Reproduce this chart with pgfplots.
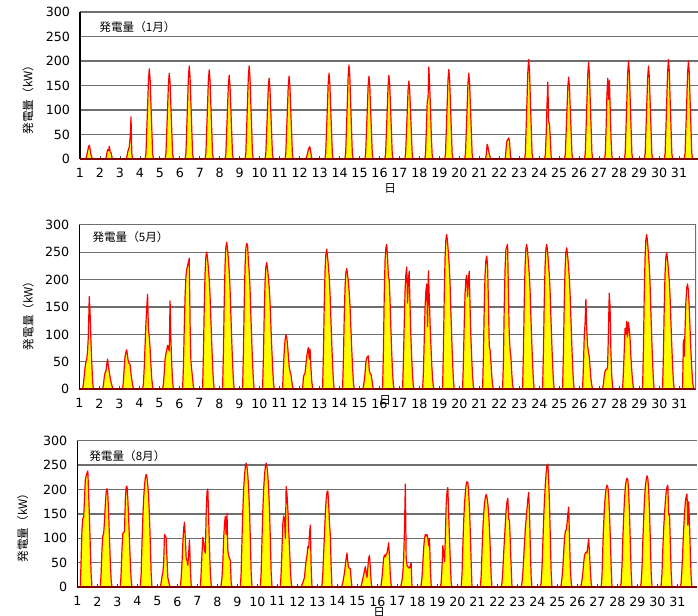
\documentclass[border=0pt]{standalone}
\usepackage{fontspec}
\setmainfont{Noto Sans CJK JP}
\newfontfamily\numfont{DejaVu Sans}
\usepackage{pgfplots}
\usepackage{pgfplotstable}
\pgfplotsset{compat=1.18}
\definecolor{frred}{HTML}{FF0000}
\definecolor{fryel}{HTML}{FFFF00}
\definecolor{zeroline}{HTML}{800000}
\definecolor{gridc}{HTML}{6E6E6E}

% hourly generation (kW), 15 samples per day, one line per day
\pgfplotstableread[row sep=\\, header=false]{
0\\0\\0\\2\\9\\17\\25\\28\\18\\8\\3\\0\\0\\0\\0\\
0\\0\\0\\2\\12\\19\\17\\26\\14\\13\\4\\0\\0\\0\\0\\
0\\0\\0\\0\\4\\14\\20\\25\\45\\86\\10\\0\\0\\0\\0\\
0\\0\\0\\11\\61\\110\\162\\184\\162\\110\\61\\11\\0\\0\\0\\
0\\0\\0\\11\\58\\105\\154\\175\\154\\105\\58\\11\\0\\0\\0\\
0\\0\\0\\11\\63\\114\\167\\190\\167\\114\\63\\11\\0\\0\\0\\
0\\0\\0\\11\\60\\109\\160\\182\\160\\109\\60\\11\\0\\0\\0\\
0\\0\\0\\10\\56\\103\\150\\171\\150\\103\\56\\10\\0\\0\\0\\
0\\0\\0\\11\\63\\114\\167\\190\\167\\114\\63\\11\\0\\0\\0\\
0\\0\\0\\10\\54\\99\\145\\165\\145\\99\\54\\10\\0\\0\\0\\
0\\0\\0\\10\\56\\101\\149\\169\\149\\101\\56\\10\\0\\0\\0\\
0\\0\\0\\0\\4\\10\\18\\23\\25\\15\\3\\0\\0\\0\\0\\
0\\0\\0\\11\\58\\105\\154\\175\\154\\105\\58\\11\\0\\0\\0\\
0\\0\\0\\12\\63\\115\\169\\192\\169\\115\\63\\12\\0\\0\\0\\
0\\0\\0\\10\\56\\101\\149\\169\\149\\101\\56\\10\\0\\0\\0\\
0\\0\\0\\10\\56\\103\\150\\171\\150\\103\\56\\10\\0\\0\\0\\
0\\0\\0\\10\\52\\95\\140\\159\\140\\95\\52\\10\\0\\0\\0\\
0\\0\\0\\10\\60\\115\\125\\188\\150\\100\\45\\8\\0\\0\\0\\
0\\0\\0\\11\\60\\110\\161\\183\\161\\110\\60\\11\\0\\0\\0\\
0\\0\\0\\11\\58\\105\\154\\175\\154\\105\\58\\11\\0\\0\\0\\
0\\0\\0\\0\\8\\30\\25\\15\\8\\2\\0\\0\\0\\0\\0\\
0\\0\\0\\3\\25\\38\\40\\43\\35\\8\\0\\0\\0\\0\\0\\
0\\0\\0\\12\\67\\122\\179\\203\\179\\122\\67\\12\\0\\0\\0\\
0\\0\\0\\9\\50\\110\\157\\75\\72\\40\\5\\0\\0\\0\\0\\
0\\0\\0\\10\\55\\100\\147\\167\\147\\100\\55\\10\\0\\0\\0\\
0\\0\\0\\12\\65\\118\\173\\197\\173\\118\\65\\12\\0\\0\\0\\
0\\0\\0\\10\\60\\130\\165\\122\\161\\100\\40\\6\\0\\0\\0\\
0\\0\\0\\12\\66\\120\\176\\200\\176\\120\\66\\12\\0\\0\\0\\
0\\0\\0\\11\\63\\114\\167\\190\\167\\114\\63\\11\\0\\0\\0\\
0\\0\\0\\12\\67\\122\\179\\203\\179\\122\\67\\12\\0\\0\\0\\
0\\0\\0\\12\\66\\120\\176\\200\\176\\120\\66\\12\\0\\0\\0\\
}\jan

\pgfplotstableread[row sep=\\, header=false]{
0\\10\\25\\40\\50\\55\\70\\100\\169\\140\\90\\50\\15\\0\\0\\
0\\8\\22\\30\\33\\45\\55\\42\\32\\22\\14\\8\\3\\0\\0\\
0\\15\\40\\60\\68\\72\\60\\50\\47\\45\\30\\18\\8\\2\\0\\
0\\10\\40\\80\\120\\150\\173\\110\\96\\75\\45\\20\\5\\0\\0\\
0\\10\\30\\55\\65\\72\\80\\75\\70\\161\\90\\45\\15\\0\\0\\
0\\40\\110\\170\\205\\219\\225\\232\\239\\120\\50\\35\\20\\5\\0\\
0\\63\\150\\213\\243\\250\\238\\220\\200\\170\\125\\83\\45\\15\\0\\
0\\67\\161\\228\\260\\268\\255\\236\\214\\182\\134\\88\\48\\16\\0\\
0\\67\\160\\226\\258\\266\\262\\234\\213\\181\\133\\88\\48\\16\\0\\
0\\58\\139\\196\\224\\231\\219\\203\\185\\157\\116\\76\\42\\14\\0\\
0\\40\\70\\90\\99\\95\\80\\60\\40\\32\\28\\15\\5\\0\\0\\
0\\22\\27\\30\\45\\60\\70\\76\\55\\73\\40\\15\\3\\0\\0\\
0\\64\\153\\217\\247\\255\\242\\224\\204\\173\\128\\84\\46\\15\\0\\
0\\55\\132\\187\\213\\220\\209\\194\\176\\150\\110\\73\\40\\13\\0\\
0\\5\\15\\30\\50\\57\\60\\61\\35\\29\\28\\20\\8\\0\\0\\
0\\70\\170\\235\\258\\264\\240\\205\\199\\160\\110\\65\\30\\8\\0\\
0\\50\\120\\180\\210\\223\\157\\200\\215\\150\\95\\55\\25\\5\\0\\
0\\30\\90\\150\\180\\192\\114\\216\\170\\120\\80\\45\\20\\5\\0\\
0\\71\\169\\240\\274\\282\\268\\248\\226\\192\\141\\93\\51\\17\\0\\
0\\50\\120\\175\\200\\208\\169\\200\\215\\150\\95\\55\\25\\5\\0\\
0\\60\\150\\210\\235\\243\\225\\160\\79\\72\\50\\25\\8\\0\\0\\
0\\50\\150\\220\\255\\260\\264\\180\\100\\72\\60\\30\\8\\0\\0\\
0\\66\\158\\224\\256\\264\\251\\232\\211\\180\\132\\87\\48\\16\\0\\
0\\66\\158\\224\\256\\264\\251\\232\\211\\180\\132\\87\\48\\16\\0\\
0\\65\\155\\219\\250\\258\\245\\227\\206\\175\\129\\85\\46\\15\\0\\
0\\40\\96\\120\\164\\110\\80\\69\\60\\40\\20\\8\\0\\0\\0\\
0\\10\\25\\33\\36\\36\\40\\100\\175\\150\\70\\25\\5\\0\\0\\
0\\30\\70\\111\\100\\124\\95\\122\\110\\93\\60\\35\\15\\3\\0\\
0\\71\\169\\240\\274\\282\\268\\248\\226\\192\\141\\93\\51\\17\\0\\
0\\62\\149\\212\\242\\249\\236\\219\\199\\169\\125\\82\\45\\15\\0\\
0\\90\\60\\110\\160\\185\\192\\180\\150\\110\\70\\40\\15\\3\\0\\
}\may

\pgfplotstableread[row sep=\\, header=false]{
0\\60\\120\\141\\143\\180\\220\\228\\234\\238\\190\\140\\80\\25\\0\\
0\\30\\80\\105\\110\\135\\170\\195\\202\\190\\150\\100\\50\\15\\0\\
0\\30\\80\\110\\112\\114\\180\\205\\207\\180\\140\\95\\50\\15\\0\\
0\\28\\90\\143\\182\\208\\224\\231\\224\\208\\182\\143\\90\\28\\0\\
0\\10\\22\\30\\50\\108\\105\\100\\60\\20\\12\\5\\0\\0\\0\\
0\\20\\50\\90\\120\\133\\100\\60\\55\\45\\70\\97\\40\\5\\0\\
0\\30\\70\\102\\90\\75\\70\\150\\195\\201\\140\\80\\30\\5\\0\\
0\\5\\20\\50\\100\\130\\145\\108\\151\\75\\65\\59\\55\\10\\0\\
0\\30\\99\\157\\201\\229\\246\\254\\246\\229\\201\\157\\99\\30\\0\\
0\\30\\99\\157\\201\\229\\246\\254\\246\\229\\201\\157\\99\\30\\0\\
0\\30\\80\\130\\146\\140\\100\\206\\190\\160\\120\\80\\40\\10\\0\\
0\\0\\5\\10\\15\\20\\40\\55\\65\\83\\80\\110\\127\\40\\0\\
0\\0\\5\\30\\70\\110\\150\\180\\195\\197\\170\\130\\107\\40\\0\\
0\\0\\3\\10\\20\\30\\45\\60\\70\\50\\40\\39\\38\\15\\0\\
0\\3\\10\\18\\25\\35\\42\\30\\20\\40\\60\\65\\40\\10\\0\\
0\\5\\20\\40\\60\\66\\62\\68\\70\\80\\91\\60\\25\\5\\0\\
0\\5\\15\\30\\60\\120\\211\\60\\45\\42\\40\\39\\45\\50\\0\\
0\\5\\20\\50\\80\\100\\108\\105\\108\\100\\85\\100\\40\\5\\0\\
0\\10\\40\\85\\70\\52\\100\\170\\195\\204\\150\\100\\50\\10\\0\\
0\\0\\26\\84\\134\\171\\194\\210\\216\\214\\194\\160\\110\\50\\0\\
0\\23\\74\\118\\150\\171\\184\\190\\184\\171\\150\\118\\74\\23\\0\\
0\\0\\10\\35\\70\\100\\130\\160\\175\\182\\140\\136\\90\\40\\0\\
0\\0\\10\\30\\60\\90\\120\\140\\160\\180\\194\\150\\80\\20\\0\\
0\\10\\40\\90\\140\\180\\210\\235\\250\\252\\220\\170\\100\\30\\0\\
0\\5\\20\\40\\70\\100\\115\\117\\130\\150\\164\\100\\40\\10\\0\\
0\\5\\15\\30\\50\\65\\70\\72\\70\\85\\99\\70\\35\\8\\0\\
0\\0\\25\\82\\130\\165\\188\\203\\209\\205\\188\\150\\100\\40\\0\\
0\\10\\45\\100\\145\\180\\205\\218\\223\\220\\195\\150\\90\\30\\0\\
0\\10\\40\\95\\140\\180\\205\\220\\228\\222\\200\\155\\95\\30\\0\\
0\\5\\30\\80\\120\\150\\175\\195\\205\\209\\148\\150\\90\\30\\0\\
0\\10\\40\\80\\120\\150\\175\\185\\191\\127\\175\\130\\70\\20\\0\\
}\aug

\pgfplotsset{
  table/dayx/.style={x expr={1+floor((\coordindex+0.5)/15)+(#1+\coordindex-15*floor((\coordindex+0.5)/15))/24}, y index=0},
  panel/.style={
    anchor=south west, scale only axis,
    ymin=0, ymax=300, ytick={0,50,...,300},
    xtick={1,...,31},
    axis x line*=bottom, axis y line*=left,
    x axis line style={zeroline, line width=1.2pt},
    y axis line style={black, line width=0.8pt},
    ymajorgrids, major grid style={gridc, line width=0.9pt},
    xtick style={black!75, line width=0.6pt},
    ytick style={draw=none},
    tick align=inside, major tick length=2.5pt,
    ticklabel style={font=\numfont\fontsize{9.5}{10}\selectfont},
    /pgf/number format/assume math mode=true,
    xticklabel style={yshift=-3.5pt},
    yticklabel style={xshift=-4pt},
    label style={font=\fontsize{8.7}{10}\selectfont},
    ylabel={発電量（kW）}, xlabel={日},
  },
  gen/.style={draw=frred, line width=0.9pt, fill=fryel, line join=round},
}
\tikzset{ttl/.style={anchor=west, inner sep=0pt, font=\fontsize{8.7}{10}\selectfont}}

\begin{document}
\begin{tikzpicture}
\path[use as bounding box] (0,0) rectangle (523.5pt,461.25pt);

\begin{axis}[panel, at={(60pt,342pt)}, width=464.25pt, height=110.25pt, xmin=1, xmax=32,
  ylabel style={at={(axis description cs:-0.084,0.422)}, anchor=center},
  xlabel style={at={(axis description cs:0.501,-0.197)}, anchor=center}]
\addplot[gen] table[dayx=4.3] {\jan} \closedcycle;
\draw[zeroline, line width=1.2pt] (rel axis cs:0,0) -- (rel axis cs:1,0);
\node[ttl] at (axis description cs:0.031,0.897) {発電量（1月）};
\end{axis}

\begin{axis}[panel, at={(59.5pt,169.3pt)}, width=462.5pt, height=123.45pt, xmin=1, xmax=31.835,
  ylabel style={at={(axis description cs:-0.083,0.464)}, anchor=center},
  xlabel style={at={(axis description cs:0.496,-0.065)}, anchor=center}]
\addplot[gen] table[dayx=3.9] {\may} \closedcycle;
\draw[zeroline, line width=1.2pt] (rel axis cs:0,0) -- (rel axis cs:1,0);
\draw[gridc, line width=0.9pt] (rel axis cs:1,0) -- (rel axis cs:1,1);
\node[ttl] at (axis description cs:0.021,0.925) {発電量（5月）};
\end{axis}

\begin{axis}[panel, at={(58pt,20.8pt)}, width=465pt, height=110pt, xmin=1, xmax=32,
  ylabel style={at={(axis description cs:-0.088,0.425)}, anchor=center},
  xlabel style={at={(axis description cs:0.487,-0.172)}, anchor=center}]
\addplot[gen] table[dayx=3.6] {\aug} \closedcycle;
\draw[zeroline, line width=1.2pt] (rel axis cs:0,0) -- (rel axis cs:1,0);
\node[ttl] at (axis description cs:0.019,0.896) {発電量（8月）};
\end{axis}
\end{tikzpicture}
\end{document}
